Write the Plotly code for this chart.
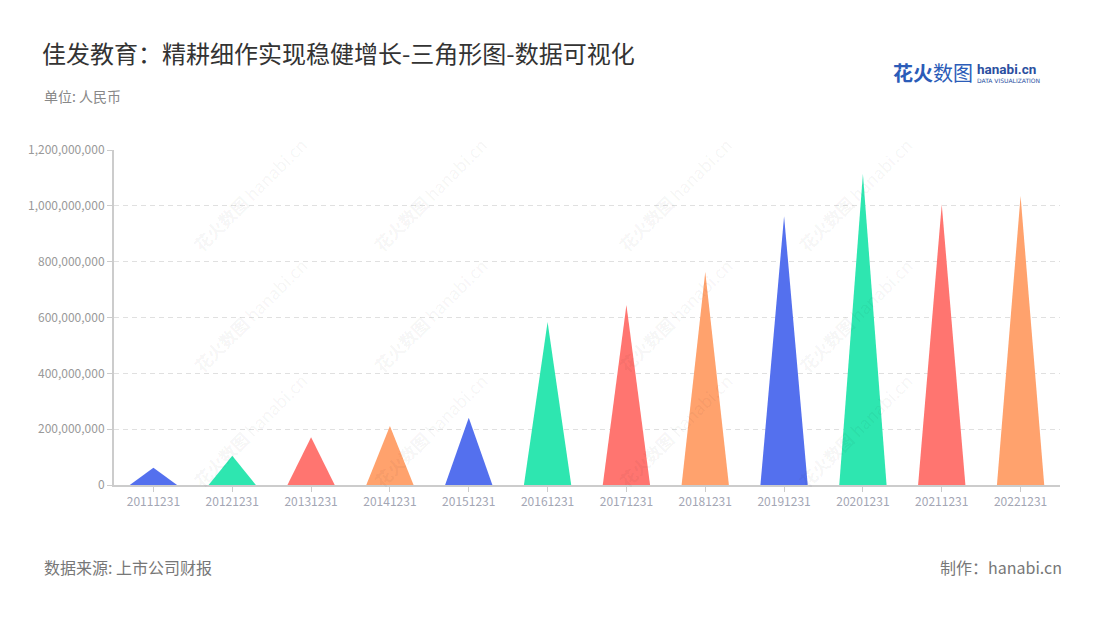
import plotly.graph_objects as go

categories = ["20111231", "20121231", "20131231", "20141231", "20151231", "20161231",
              "20171231", "20181231", "20191231", "20201231", "20211231", "20221231"]
values = [62e6, 105e6, 171e6, 211e6, 241e6, 584e6, 645e6, 763e6, 963e6, 1114e6, 1005e6, 1035e6]
palette = ["#5470ee", "#2ee6b0", "#ff7570", "#ffa26d"]
y_ticks = [0, 200e6, 400e6, 600e6, 800e6, 1000e6, 1200e6]

W, H = 1100, 620
L, R, T, B = 114, 40, 150, 135
PW, PH = W - L - R, H - T - B
FONT = "Noto Sans CJK SC, Noto Sans, sans-serif"


def px(x):
    return (x - L) / PW


def py(y):
    return (H - B - y) / PH


fig = go.Figure()
half = 0.3
for i, (c, v) in enumerate(zip(categories, values)):
    col = palette[i % len(palette)]
    fig.add_trace(go.Scatter(
        x=[i - half, i, i + half, i - half],
        y=[0, v, 0, 0],
        mode="lines", fill="toself", fillcolor=col,
        line=dict(width=0, color=col), hoverinfo="skip", showlegend=False,
    ))

annotations = []
# watermarks
for wy in (130, 315, 495):
    for wx in (185, 430, 675, 920):
        annotations.append(dict(
            x=px(wx), y=py(wy), xref="paper", yref="paper", text="<b>花火数图</b> hanabi.cn",
            showarrow=False, textangle=-45, font=dict(family=FONT, size=17, color="rgba(0,0,0,0.05)"),
        ))

annotations += [
    dict(x=px(42), y=py(96), xref="paper", yref="paper", text="单位: 人民币", showarrow=False,
         xanchor="left", yanchor="middle", font=dict(family=FONT, size=14, color="#888888")),
    dict(x=px(42), y=py(567), xref="paper", yref="paper", text="数据来源: 上市公司财报", showarrow=False,
         xanchor="left", yanchor="middle", font=dict(family=FONT, size=16, color="#777777")),
    dict(x=px(1064), y=py(567), xref="paper", yref="paper", text="制作：hanabi.cn", showarrow=False,
         xanchor="right", yanchor="middle", font=dict(family=FONT, size=16, color="#777777")),
    dict(x=px(891), y=py(72), xref="paper", yref="paper", text="<b>花火</b>数图", showarrow=False,
         xanchor="left", yanchor="middle", font=dict(family=FONT, size=20, color="#2b5cb8")),
    dict(x=px(975), y=py(69), xref="paper", yref="paper", text="<b>hanabi.cn</b>", showarrow=False,
         xanchor="left", yanchor="middle", font=dict(family="Roboto", size=13.5, color="#2b4fa0")),
    dict(x=px(975), y=py(80), xref="paper", yref="paper", text="DATA VISUALIZATION", showarrow=False,
         xanchor="left", yanchor="middle", font=dict(family="DejaVu Sans", size=6, color="#2b4fa0")),
]

fig.update_layout(
    width=W, height=H,
    margin=dict(l=L, r=R, t=T, b=B),
    paper_bgcolor="white", plot_bgcolor="white",
    title=dict(text="佳发教育：精耕细作实现稳健增长-三角形图-数据可视化",
               x=42 / W, y=1 - 55 / H, xanchor="left", yanchor="middle", xref="container", yref="container",
               font=dict(family=FONT, size=24, color="#333333")),
    font=dict(family=FONT),
    xaxis=dict(
        range=[-0.5, len(categories) - 0.5], tickvals=list(range(len(categories))), ticktext=categories,
        showgrid=False, zeroline=False, showline=True, linecolor="#cccccc", linewidth=2,
        ticks="outside", ticklen=5, tickcolor="#cccccc",
        tickfont=dict(family=FONT, size=12, color="#a3a6b4"), fixedrange=True,
    ),
    yaxis=dict(
        range=[0, 1.2e9], tickvals=y_ticks, tickformat=",",
        showgrid=True, gridcolor="#e0e0e0", griddash="5px,4px", gridwidth=1,
        zeroline=False, showline=True, linecolor="#cccccc", linewidth=2,
        ticks="outside", ticklen=5, tickcolor="#cccccc",
        tickfont=dict(family=FONT, size=12, color="#999999"),
    ),
    annotations=annotations,
)

fig.write_html("out.html", config={"displayModeBar": False},
               post_script="document.body.style.margin='0';document.body.style.overflow='hidden';")
